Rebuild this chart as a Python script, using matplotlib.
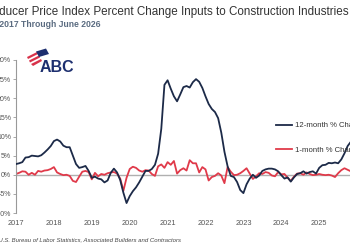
import numpy as np
import pandas as pd
import matplotlib
matplotlib.use("Agg")
import matplotlib.pyplot as plt
from matplotlib.patches import Polygon

plt.rcParams['font.family'] = ['Liberation Sans', 'DejaVu Sans']

start_year = 2017
twelve_month = [
    2.8, 3.0, 3.3, 4.5, 4.6, 5.0, 4.9, 4.8, 5.1, 5.8, 6.6, 7.5,
    8.8, 9.2, 8.7, 7.6, 7.2, 7.2, 5.0, 2.8, 1.8, 2.0, 2.3, 1.0,
    -0.8, -0.5, -1.0, -1.2, -2.0, -1.5, 0.5, 1.6, 0.6, -1.4, -4.7, -7.4,
    -5.6, -4.3, -3.3, -2.0, -0.5, 1.0, 1.0, 1.5, 2.6, 5.5, 12.0, 23.5,
    24.7, 22.5, 20.5, 19.2, 21.0, 22.9, 23.2, 22.8, 24.2, 25.0, 24.3, 22.7,
    20.5, 18.5, 17.2, 16.4, 14.8, 11.0, 6.0, 2.2, -0.3, -0.6, -1.9, -4.0,
    -4.8, -2.5, -1.0, 0.0, -0.8, -0.2, 1.0, 1.4, 1.6, 1.6, 1.4, 0.9,
    -0.1, -1.0, -0.7, -1.8, -0.7, 0.2, 0.4, 0.9, 0.3, 0.7, 0.9, 0.3,
    1.8, 2.5, 2.6, 3.1, 3.0, 3.2, 3.0, 4.0, 5.6, 7.5, 8.6,
]
one_month = [
    0.2, 0.5, 0.9, 0.8, 0.0, 0.5, 0.0, 1.0, 0.8, 1.1, 1.2, 1.5,
    2.0, 0.6, 0.2, -0.1, 0.0, -0.3, -1.6, -1.9, -0.5, 0.8, 1.0, 0.7,
    -1.2, 0.5, -0.4, 0.2, 0.0, 0.4, 0.6, 0.7, 0.3, -1.0, -4.2, -0.8,
    1.5, 2.1, 1.8, 1.1, 0.8, 1.2, 1.1, 0.2, -0.3, 2.2, 2.7, 1.8,
    3.3, 2.6, 3.6, 0.3, 1.2, 1.7, 1.1, 3.8, 3.0, 3.0, 0.6, 2.0,
    1.4, -1.5, -0.6, -0.3, 0.4, -0.2, -2.2, 2.0, 0.8, -0.1, 0.0, 0.4,
    1.0, 1.7, 0.3, -1.1, -0.4, 0.4, 0.2, 0.7, 0.5, -0.2, -0.4, 0.7,
    0.1, 0.2, -0.8, -1.6, -0.5, 0.3, 0.4, 0.0, 0.6, 0.2, -0.1, 0.0,
    0.2, 0.0, -0.1, 0.0, -0.2, -0.6, 0.4, 1.2, 1.7, 1.3, 0.9,
]
year_ticks = [2017, 2018, 2019, 2020, 2021, 2022, 2023, 2024, 2025]
y_ticks = [-10, -5, 0, 5, 10, 15, 20, 25, 30]
series_names = ["12-month % Change", "1-month % Change"]
title = "Producer Price Index Percent Change Inputs to Construction Industries"
subtitle = "January 2017 Through June 2026"
source = "Source: U.S. Bureau of Labor Statistics, Associated Builders and Contractors"

t = start_year + np.arange(len(twelve_month)) / 12.0
t2 = start_year + np.arange(len(one_month)) / 12.0

navy = "#1c2a48"
red = "#e03a4a"
gray = "#555555"

fig = plt.figure(figsize=(3.5, 2.5), dpi=100)
W, H = 350, 250
ax_left, ax_right = 16, 16 + 9.5 * 37.9
ax_top, ax_bot = 60, 213
ax = fig.add_axes([ax_left / W, 1 - ax_bot / H, (ax_right - ax_left) / W, (ax_bot - ax_top) / H])

ax.axhline(0, color="#b0b0b0", lw=1.0, zorder=1)
ax.plot(t, twelve_month, color=navy, lw=1.3, label=series_names[0], zorder=3)
ax.plot(t2, one_month, color=red, lw=1.3, label=series_names[1], zorder=2)

ax.set_xlim(2017, 2026.5)
ax.set_ylim(-10, 30)
ax.set_yticks(y_ticks)
ax.set_yticklabels([f"{v}%" for v in y_ticks])
ax.set_xticks(year_ticks)
ax.set_xticklabels([str(y) for y in year_ticks])
for s in ["top", "right", "bottom"]:
    ax.spines[s].set_visible(False)
ax.spines["left"].set_color("#999999")
ax.spines["left"].set_linewidth(0.8)
ax.tick_params(axis="y", labelsize=5, colors="#999999", labelcolor=gray, length=2.5, width=0.6, pad=1)
ax.tick_params(axis="x", labelsize=5.3, labelcolor=gray, length=0, pad=5)

leg = ax.legend(loc="upper left", bbox_to_anchor=((276 - ax_left) / (ax_right - ax_left), (ax_bot - 122) / (ax_bot - ax_top)),
                frameon=False, fontsize=5.6, handlelength=2.0, handletextpad=0.5, labelspacing=2.2,
                borderaxespad=0, borderpad=0)
for txt in leg.get_texts():
    txt.set_color("#333333")

fig.text(349 / W, 1 - 12 / H, title, ha="right", va="center", fontsize=8.4, color="#333333")
fig.text(100 / W, 1 - 24.5 / H, subtitle, ha="right", va="center", fontsize=6.2, color="#5a6b80", fontweight="bold")
fig.text(181 / W, 1 - 240 / H, source, ha="right", va="center", fontsize=4.3, color="#444444", style="italic")

# ABC logo
fig.text(57 / W, 1 - 68 / H, "ABC", ha="center", va="center", fontsize=11.5, color="#1d2f6f",
         fontweight="bold")
stripe_sets = [
    [(27, 57), (37, 52), (38, 54), (28, 59)],
    [(29, 60.5), (39, 55.5), (40, 57.5), (30, 62.5)],
    [(31, 64), (41, 59), (42, 61), (33, 66)],
]
for pts in stripe_sets:
    fig.patches.append(Polygon([(x / W, 1 - y / H) for x, y in pts], closed=True, transform=fig.transFigure,
                               facecolor="#d8324a", edgecolor="none"))
fig.patches.append(Polygon([(x / W, 1 - y / H) for x, y in [(36, 51.5), (46, 48.5), (49, 54), (39, 57)]], closed=True,
                           transform=fig.transFigure, facecolor="#1d2f6f", edgecolor="none"))

fig.savefig("out.png", dpi=100)
